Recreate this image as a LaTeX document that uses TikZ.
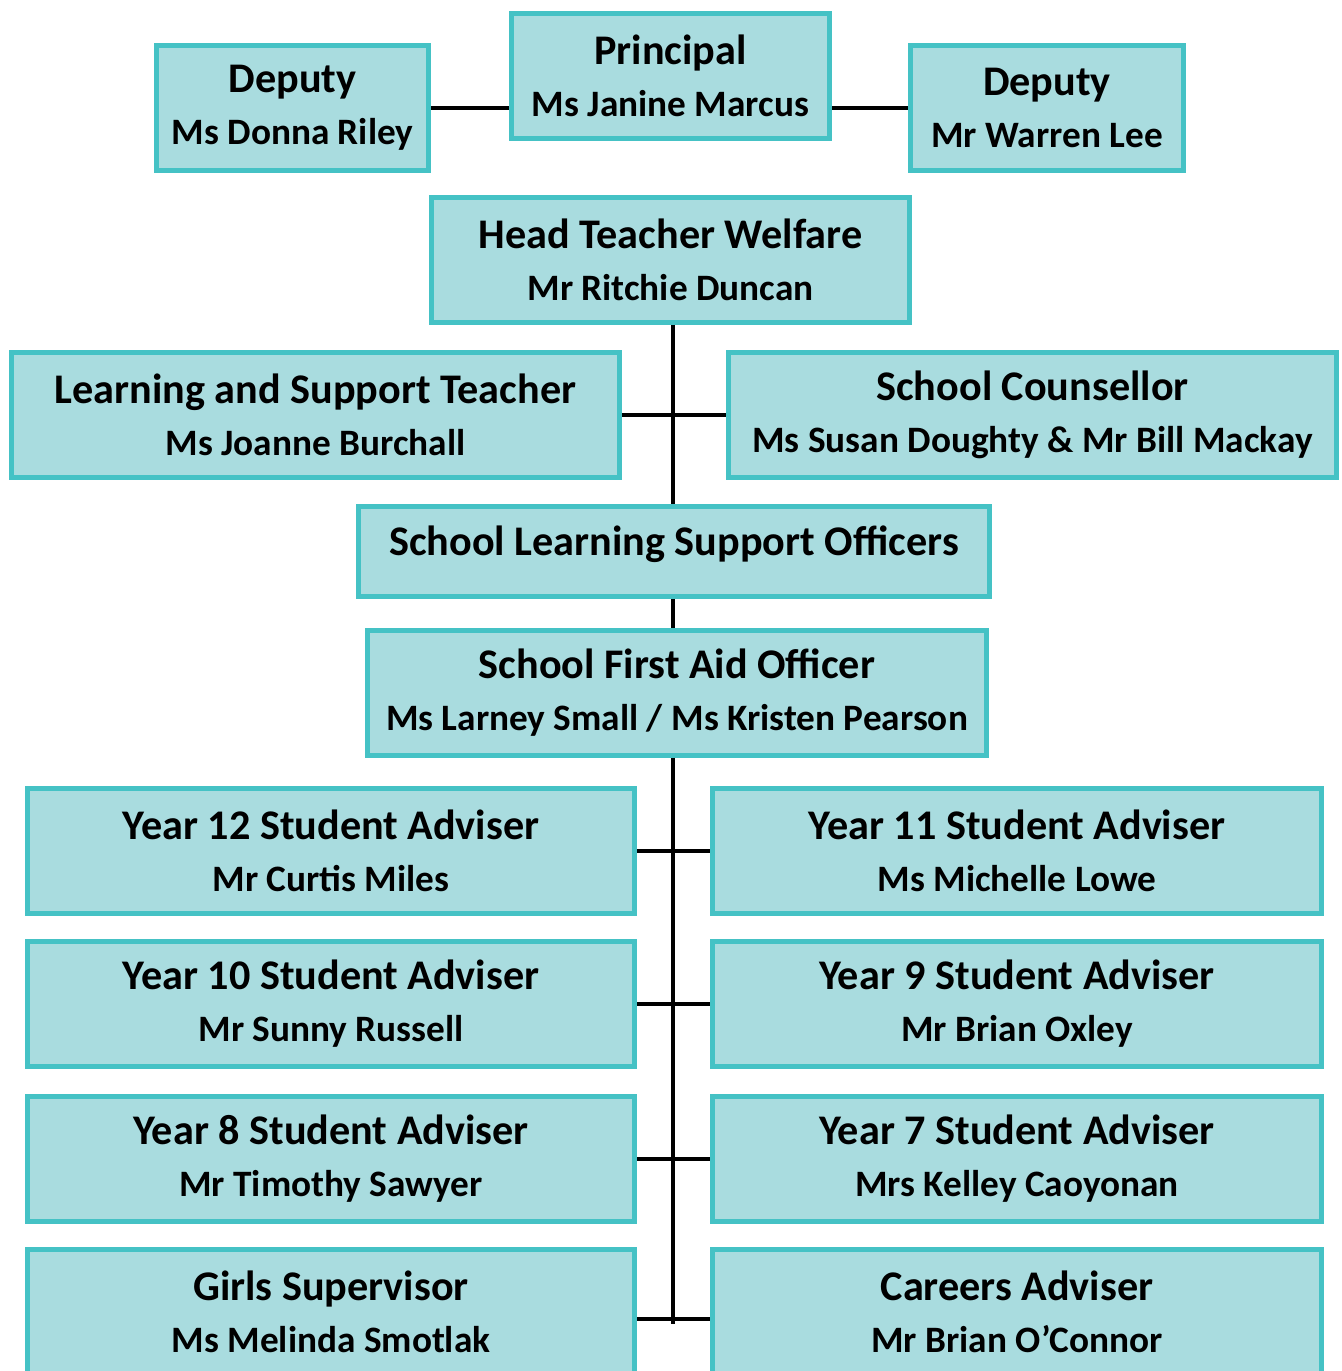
\documentclass[tikz,border=0pt]{standalone}
\usepackage{fontspec}
\setmainfont{Carlito}
\usetikzlibrary{positioning}
\definecolor{boxfill}{RGB}{169,220,223}
\definecolor{boxline}{RGB}{69,194,197}
\newcommand{\nm}{\fontsize{10.6}{14.8}\selectfont}
\begin{document}
\begin{tikzpicture}[x=0.01cm,y=-0.01cm,
post/.style={draw=boxline,fill=boxfill,line width=1.4pt,align=center,
  minimum height=1.25cm,inner sep=0pt,
  font=\bfseries\fontsize{12}{14.8}\selectfont},
conn/.style={line width=1.3pt,black}]
\useasboundingbox (0,0) rectangle (1341,1371);
% top row
\node[post,minimum width=3.18cm] (principal) at (670.5,76) {Principal\\\nm Ms Janine Marcus};
\node[post,minimum width=2.72cm] (depL) at (292.5,108) {Deputy\\\nm Ms Donna Riley};
\node[post,minimum width=2.73cm] (depR) at (1047,108) {Deputy\\\nm Mr Warren Lee};
\node[post,minimum width=4.78cm] (welfare) at (670.5,260) {Head Teacher Welfare\\\nm Mr Ritchie Duncan};
% support staff
\node[post,minimum width=6.08cm] (lst) at (315.5,415) {Learning and Support Teacher\\\nm Ms Joanne Burchall};
\node[post,minimum width=6.08cm] (counsel) at (1032.5,415) {School Counsellor\\\nm Ms Susan Doughty \& Mr Bill Mackay};
\node[post,minimum width=6.31cm,minimum height=0.9cm,text depth=6pt] (slso) at (674,551.5) {School Learning Support Officers};
\node[post,minimum width=6.19cm] (firstaid) at (677,693) {School First Aid Officer\\\nm Ms Larney Small / Ms Kristen Pearson};
% year advisers
\node[post,minimum width=6.07cm] (y12) at (331,851) {Year 12 Student Adviser\\\nm Mr Curtis Miles};
\node[post,minimum width=6.09cm] (y11) at (1017,851) {Year 11 Student Adviser\\\nm Ms Michelle Lowe};
\node[post,minimum width=6.07cm] (y10) at (331,1004) {Year 10 Student Adviser\\\nm Mr Sunny Russell};
\node[post,minimum width=6.09cm] (y9) at (1017,1004) {Year 9 Student Adviser\\\nm Mr Brian Oxley};
\node[post,minimum width=6.07cm] (y8) at (331,1159) {Year 8 Student Adviser\\\nm Mr Timothy Sawyer};
\node[post,minimum width=6.09cm] (y7) at (1017,1159) {Year 7 Student Adviser\\\nm Mrs Kelley Caoyonan};
\node[post,minimum width=6.07cm] (girls) at (331,1312) {Girls Supervisor\\\nm Ms Melinda Smotlak};
\node[post,minimum width=6.09cm] (careers) at (1017,1312) {Careers Adviser\\\nm Mr Brian O’Connor};
% lines
\coordinate (trunk) at (673,1324);
\draw[conn] (depL.east) -- (depL.east -| principal.west);
\draw[conn] (depR.west) -- (depR.west -| principal.east);
\draw[conn] (welfare.south -| trunk) -- (slso.north -| trunk);
\draw[conn] (slso.south -| trunk) -- (firstaid.north -| trunk);
\draw[conn] (firstaid.south -| trunk) -- (trunk);
\draw[conn] (lst.east) -- (counsel.west);
\draw[conn] (y12.east) -- (y11.west);
\draw[conn] (y10.east) -- (y9.west);
\draw[conn] (y8.east) -- (y7.west);
\draw[conn] ([yshift=-0.07cm]girls.east) -- ([yshift=-0.07cm]careers.west);
\end{tikzpicture}
\end{document}
